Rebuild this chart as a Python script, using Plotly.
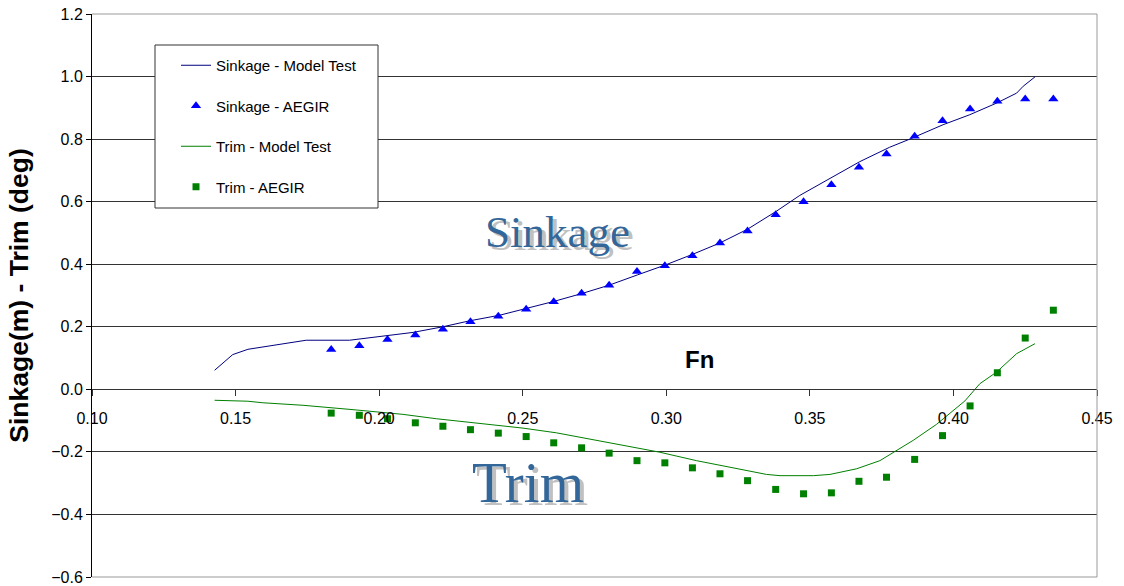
import plotly.graph_objects as go

# Froude numbers of the AEGIR calculations
fn_aegir = [0.1833, 0.1931, 0.2029, 0.2126, 0.2222, 0.2318, 0.2415, 0.2512, 0.2608,
            0.2705, 0.2801, 0.2898, 0.2995, 0.3091, 0.3187, 0.3283, 0.3381, 0.3478,
            0.3575, 0.3671, 0.3767, 0.3865, 0.3962, 0.4058, 0.4153, 0.4250, 0.4348]
sinkage_aegir = [0.127, 0.139, 0.159, 0.174, 0.192, 0.216, 0.234, 0.256, 0.280,
                 0.307, 0.333, 0.377, 0.395, 0.427, 0.468, 0.506, 0.558, 0.600,
                 0.654, 0.710, 0.752, 0.809, 0.859, 0.896, 0.921, 0.928, 0.928]
trim_aegir = [-0.076, -0.083, -0.094, -0.107, -0.118, -0.129, -0.140, -0.151, -0.171,
              -0.187, -0.204, -0.228, -0.235, -0.251, -0.270, -0.292, -0.320, -0.334,
              -0.331, -0.294, -0.281, -0.224, -0.148, -0.053, 0.053, 0.164, 0.253]

# Model test curves
fn_sink_test = [0.1427, 0.1490, 0.1543, 0.1618, 0.1746, 0.1897, 0.2013, 0.2118, 0.2222,
                0.2315, 0.2420, 0.2513, 0.2608, 0.2705, 0.2801, 0.2900, 0.2995, 0.3090,
                0.3187, 0.3283, 0.3381, 0.3465, 0.3581, 0.3674, 0.3778, 0.3848, 0.3964,
                0.4057, 0.4150, 0.4220, 0.4243, 0.4284]
sinkage_test = [0.061, 0.111, 0.128, 0.139, 0.157, 0.157, 0.170, 0.182, 0.200,
                0.219, 0.237, 0.258, 0.281, 0.306, 0.333, 0.366, 0.397, 0.431,
                0.468, 0.512, 0.568, 0.620, 0.680, 0.728, 0.774, 0.800, 0.846,
                0.878, 0.915, 0.947, 0.969, 0.999]
fn_trim_test = [0.1427, 0.1543, 0.1595, 0.1735, 0.1909, 0.2083, 0.2199, 0.2350, 0.2501,
                0.2617, 0.2792, 0.2977, 0.3105, 0.3233, 0.3349, 0.3396, 0.3512, 0.3570,
                0.3663, 0.3744, 0.3796, 0.3860, 0.3941, 0.4040, 0.4092, 0.4150, 0.4220,
                0.4284]
trim_test = [-0.035, -0.038, -0.043, -0.051, -0.065, -0.080, -0.094, -0.110, -0.124,
             -0.139, -0.169, -0.201, -0.228, -0.251, -0.272, -0.276, -0.276, -0.272,
             -0.254, -0.228, -0.199, -0.163, -0.112, -0.037, 0.018, 0.055, 0.114,
             0.146]

W, H = 1124, 586
ML, MR, MT, MB = 92, 27, 14, 9
PW, PH = W - ML - MR, H - MT - MB


def px(x):
    return (x - ML) / PW


def py(y):
    return (H - MB - y) / PH


SANS = "Liberation Sans, Arial, sans-serif"
SERIF = "Liberation Serif, Times New Roman, serif"

fig = go.Figure()
fig.add_trace(go.Scatter(x=fn_sink_test, y=sinkage_test, mode="lines",
                         name="Sinkage - Model Test", legendgroup="a",
                         line=dict(color="#000080", width=1)))
fig.add_trace(go.Scatter(x=fn_aegir, y=sinkage_aegir, mode="markers",
                         name="Sinkage - AEGIR", legendgroup="b",
                         marker=dict(symbol="triangle-up", size=9, color="#0000FF")))
fig.add_trace(go.Scatter(x=fn_trim_test, y=trim_test, mode="lines",
                         name="Trim - Model Test", legendgroup="c",
                         line=dict(color="#008000", width=1)))
fig.add_trace(go.Scatter(x=fn_aegir, y=trim_aegir, mode="markers",
                         name="Trim - AEGIR", legendgroup="d",
                         marker=dict(symbol="square", size=7, color="#008000")))

annotations = [
    dict(text="<b>Fn</b>", x=px(699), y=py(360), xref="paper", yref="paper",
         xanchor="center", yanchor="middle",
         showarrow=False, font=dict(family=SANS, size=24, color="black")),
]
# Decorative labels with a grey drop shadow
for label, cx, cy, size in [("Sinkage", 557, 232, 45), ("Trim", 528, 482, 57)]:
    annotations.append(dict(text=label, x=px(cx), y=py(cy), xref="paper", yref="paper",
                            xanchor="center", yanchor="middle", showarrow=False,
                            font=dict(family=SERIF, size=size, color="#336699",
                                      shadow="4px 3px 0px #C0C0C0")))

shapes = [
    # plot frame (top, right, bottom)
    dict(type="line", xref="paper", yref="paper", x0=0, x1=1, y0=1, y1=1,
         line=dict(color="#999999", width=1), layer="above"),
    dict(type="line", xref="paper", yref="paper", x0=1, x1=1, y0=0, y1=1,
         line=dict(color="#999999", width=1), layer="above"),
    dict(type="line", xref="paper", yref="paper", x0=0, x1=1, y0=0, y1=0,
         line=dict(color="#999999", width=1), layer="above"),
    # legend frame
    dict(type="rect", xref="paper", yref="paper", x0=px(155), x1=px(378),
         y0=py(208), y1=py(45), fillcolor="white",
         line=dict(color="#333333", width=1), layer="above"),
]

fig.update_layout(
    width=W, height=H,
    margin=dict(l=ML, r=MR, t=MT, b=MB, pad=0),
    paper_bgcolor="white", plot_bgcolor="white",
    font=dict(family=SANS, color="black"),
    showlegend=True,
    legend=dict(x=px(176), y=py(49), xanchor="left", yanchor="top",
                bgcolor="rgba(0,0,0,0)", borderwidth=0,
                font=dict(family=SANS, size=15, color="black"),
                tracegroupgap=18, itemwidth=30),
    annotations=annotations,
    shapes=shapes,
    xaxis=dict(range=[0.10, 0.45], dtick=0.05, tick0=0.10, tickformat=".2f",
               showgrid=False, zeroline=False, anchor="free", position=1 / 3,
               showline=True, linecolor="#333333", linewidth=1,
               ticks="outside", ticklen=6, tickcolor="#333333",
               ticklabelstandoff=8, automargin=False,
               tickfont=dict(family=SANS, size=16, color="black")),
    yaxis=dict(range=[-0.6, 1.2], dtick=0.2, tick0=0, tickformat=".1f",
               showgrid=True, gridcolor="#333333", gridwidth=1, zeroline=False,
               showline=True, linecolor="black", linewidth=1,
               ticks="outside", ticklen=5, tickcolor="black", automargin=False,
               tickfont=dict(family=SANS, size=16, color="black"),
               title=dict(text="<b>Sinkage(m) - Trim (deg)</b>", standoff=14,
                          font=dict(family=SANS, size=26.5, color="black"))),
)

fig.write_html("out.html")
